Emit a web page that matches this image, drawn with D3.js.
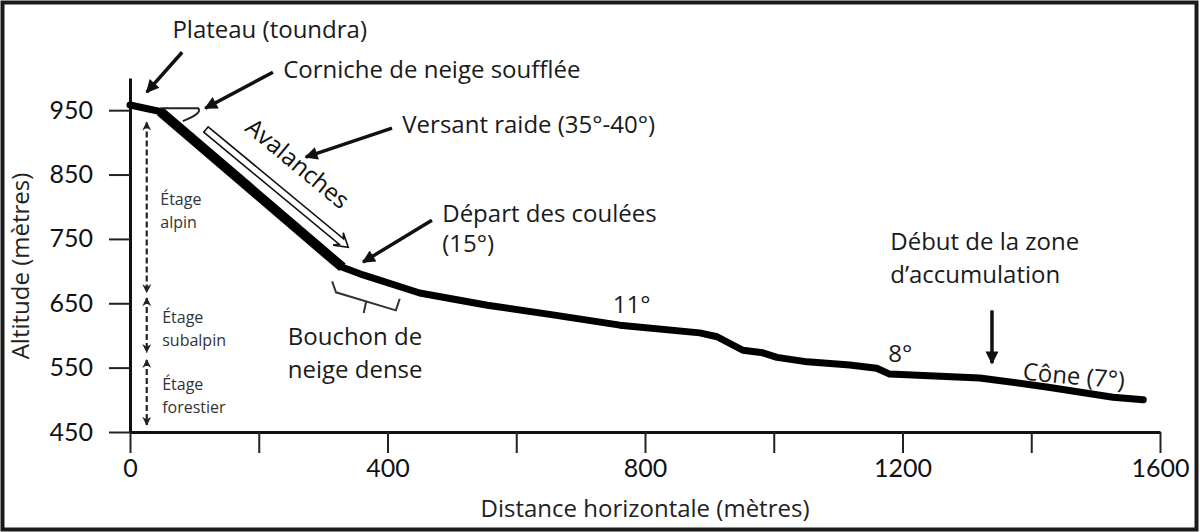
<!DOCTYPE html>
<html>
<head>
<meta charset="utf-8">
<script src="https://cdn.jsdelivr.net/npm/d3@7"></script>
<style>
  body { margin: 0; background: #fff; }
  svg { display: block; font-family: "Open Sans", Lato, sans-serif; }
</style>
</head>
<body>
<div class="container"></div>
<script>
const WIDTH = 1200;
const HEIGHT = 532;

// profil du couloir : distance horizontale (m) et altitude (m)
const distance = [0, 47, 318, 330, 362, 450, 555, 657, 761, 885, 912, 952, 983, 1005, 1052, 1118, 1160, 1180, 1320, 1424, 1527, 1574];
const altitude = [958, 948, 716, 706, 694, 666, 647, 632, 616, 604, 598, 577, 573, 566, 559, 554, 549, 540, 534, 520, 504, 500];
const steepFrom = 1;
const steepTo = 3;

const xTicks = [0, 200, 400, 600, 800, 1000, 1200, 1400, 1600];
const xLabels = [0, 400, 800, 1200, 1600];
const yTicks = [450, 550, 650, 750, 850, 950];

// étages de végétation (altitudes des flèches pointillées)
const zoneNames = [["Étage", "alpin"], ["Étage", "subalpin"], ["Étage", "forestier"]];
const zoneTop = [931, 658, 562];
const zoneBottom = [667, 574, 461];

var x = d3.scaleLinear().domain([0, 1600]).range([130, 1160]);
var y = d3.scaleLinear().domain([450, 1000]).range([432, 78]);

var svg = d3.select('.container').append('svg')
    .attr('width', WIDTH)
    .attr('height', HEIGHT);

var defs = svg.append('defs');
defs.append('marker')
    .attr('id', 'head')
    .attr('viewBox', '0 0 10 10')
    .attr('refX', 9).attr('refY', 5)
    .attr('markerUnits', 'userSpaceOnUse')
    .attr('markerWidth', 15).attr('markerHeight', 13)
    .attr('orient', 'auto')
    .append('path').attr('d', 'M0,0 L10,5 L0,10 z').attr('fill', '#111');
defs.append('marker')
    .attr('id', 'small')
    .attr('viewBox', '0 0 10 10')
    .attr('refX', 9).attr('refY', 5)
    .attr('markerUnits', 'userSpaceOnUse')
    .attr('markerWidth', 10).attr('markerHeight', 9)
    .attr('orient', 'auto-start-reverse')
    .append('path').attr('d', 'M0,0 L10,5 L0,10 L3,5 z').attr('fill', '#222');

// cadre
svg.append('rect')
    .attr('x', 2.5).attr('y', 2.5)
    .attr('width', WIDTH - 6).attr('height', HEIGHT - 5)
    .attr('fill', 'none').attr('stroke', '#1a1a1a').attr('stroke-width', 4);

// axes
var xAxis = d3.axisBottom(x)
    .tickValues(xTicks)
    .tickSize(21).tickSizeOuter(0).tickPadding(6)
    .tickFormat(function (d) { return xLabels.indexOf(d) >= 0 ? d : ''; });
var yAxis = d3.axisLeft(y)
    .tickValues(yTicks)
    .tickSize(21).tickSizeOuter(0).tickPadding(16);

var gx = svg.append('g').attr('transform', 'translate(0,' + y(450) + ')').call(xAxis);
var gy = svg.append('g').attr('transform', 'translate(' + x(0) + ',0)').call(yAxis);
[gx, gy].forEach(function (g) {
    g.select('.domain').attr('stroke', '#111').attr('stroke-width', 3);
    g.selectAll('.tick line').attr('stroke', '#222').attr('stroke-width', 2);
    g.selectAll('.tick text').attr('fill', '#111').attr('font-size', 25)
        .attr('font-family', 'Lato, sans-serif');
});

svg.append('text')
    .attr('x', 645).attr('y', 517)
    .attr('text-anchor', 'middle').attr('font-size', 24).attr('fill', '#222')
    .text('Distance horizontale (mètres)');
svg.append('text')
    .attr('transform', 'translate(29,266) rotate(-90)')
    .attr('text-anchor', 'middle').attr('font-size', 24).attr('fill', '#222')
    .text('Altitude (mètres)');

// profil
var pts = distance.map(function (d, i) { return [d, altitude[i]]; });
var line = d3.line()
    .x(function (d) { return x(d[0]); })
    .y(function (d) { return y(d[1]); });

svg.append('path')
    .attr('d', line(pts))
    .attr('fill', 'none').attr('stroke', '#000')
    .attr('stroke-width', 7).attr('stroke-linejoin', 'round').attr('stroke-linecap', 'round');
svg.append('path')
    .attr('d', line(pts.slice(steepFrom, steepTo + 1)))
    .attr('fill', 'none').attr('stroke', '#000')
    .attr('stroke-width', 10).attr('stroke-linejoin', 'round');

// corniche
svg.append('path')
    .attr('d', 'M' + x(47) + ',' + y(953) + ' L' + x(106) + ',' + y(953) +
        ' Q' + x(113) + ',' + y(945) + ' ' + x(82) + ',' + y(933))
    .attr('fill', 'none').attr('stroke', '#222').attr('stroke-width', 2);

// flèches d'annotation
var arrows = [
    [81, 1040, 26, 978],
    [222, 1009, 117, 953],
    [407, 922, 273, 877],
    [469, 779, 362, 714],
    [1339, 639, 1339, 557]
];
svg.selectAll('.arrow').data(arrows).enter().append('line')
    .attr('class', 'arrow')
    .attr('x1', function (d) { return x(d[0]); }).attr('y1', function (d) { return y(d[1]); })
    .attr('x2', function (d) { return x(d[2]); }).attr('y2', function (d) { return y(d[3]); })
    .attr('stroke', '#111').attr('stroke-width', 3.5)
    .attr('marker-end', 'url(#head)');

// flèche creuse des avalanches
var ax0 = x(118), ay0 = y(920), ax1 = x(339), ay1 = y(737);
var aLen = Math.hypot(ax1 - ax0, ay1 - ay0);
var aAng = Math.atan2(ay1 - ay0, ax1 - ax0) * 180 / Math.PI;
svg.append('path')
    .attr('transform', 'translate(' + ax0 + ',' + ay0 + ') rotate(' + aAng + ')')
    .attr('d', 'M0,-3.5 L' + (aLen - 9) + ',-3.5 L' + (aLen - 13) + ',-8 L' + aLen + ',0 L' +
        (aLen - 13) + ',8 L' + (aLen - 9) + ',3.5 L0,3.5 Z')
    .attr('fill', '#fff').attr('stroke', '#111').attr('stroke-width', 1.6);
svg.append('text')
    .attr('transform', 'translate(' + x(252) + ',' + y(857) + ') rotate(' + aAng + ')')
    .attr('text-anchor', 'middle').attr('font-size', 24).attr('fill', '#111')
    .text('Avalanches');

// accolade du bouchon
svg.append('path')
    .attr('d', 'M' + x(314) + ',' + y(684) + ' L' + x(320) + ',' + y(667) + ' L' + x(413) + ',' + y(639) +
        ' L' + x(419) + ',' + y(657) + ' M' + x(367) + ',' + y(653) + ' L' + x(363) + ',' + y(635))
    .attr('fill', 'none').attr('stroke', '#333').attr('stroke-width', 2);

// textes
var labels = [
    ['Plateau (toundra)', 217, 1062, 'middle', 0],
    ['Corniche de neige soufflée', 238, 1000, 'start', 0],
    ['Versant raide (35°-40°)', 423, 914, 'start', 0],
    ['Départ des coulées', 485, 777, 'start', 0],
    ['(15°)', 485, 730, 'start', 0],
    ['Bouchon de', 245, 585, 'start', 0],
    ['neige dense', 245, 534, 'start', 0],
    ['11°', 750, 635, 'start', 0],
    ['8°', 1178, 559, 'start', 0],
    ['Début de la zone', 1181, 733, 'start', 0],
    ['d’accumulation', 1181, 681, 'start', 0],
    ['Cône (7°)', 1386, 531, 'start', 5]
];
svg.selectAll('.lab').data(labels).enter().append('text')
    .attr('class', 'lab')
    .attr('transform', function (d) { return 'translate(' + x(d[1]) + ',' + y(d[2]) + ') rotate(' + d[4] + ')'; })
    .attr('text-anchor', function (d) { return d[3]; })
    .attr('font-size', 24).attr('fill', '#1a1a1a')
    .text(function (d) { return d[0]; });

// étages
var zones = svg.selectAll('.zone').data(zoneNames).enter().append('g').attr('class', 'zone');
zones.append('line')
    .attr('x1', x(26)).attr('x2', x(26))
    .attr('y1', function (d, i) { return y(zoneTop[i]); })
    .attr('y2', function (d, i) { return y(zoneBottom[i]); })
    .attr('stroke', '#222').attr('stroke-width', 2.2).attr('stroke-dasharray', '6,3')
    .attr('marker-start', 'url(#small)').attr('marker-end', 'url(#small)');
zones.append('text')
    .attr('x', function (d, i) { return x(i === 0 ? 47 : 50); })
    .attr('y', function (d, i) { return (y(zoneTop[i]) + y(zoneBottom[i])) / 2 - 2; })
    .attr('font-size', 16).attr('fill', '#333')
    .selectAll('tspan').data(function (d) { return d; }).enter().append('tspan')
    .attr('x', function () { return this.parentNode.getAttribute('x'); })
    .attr('dy', function (d, i) { return i === 0 ? 0 : 23; })
    .text(function (d) { return d; });
</script>
</body>
</html>
